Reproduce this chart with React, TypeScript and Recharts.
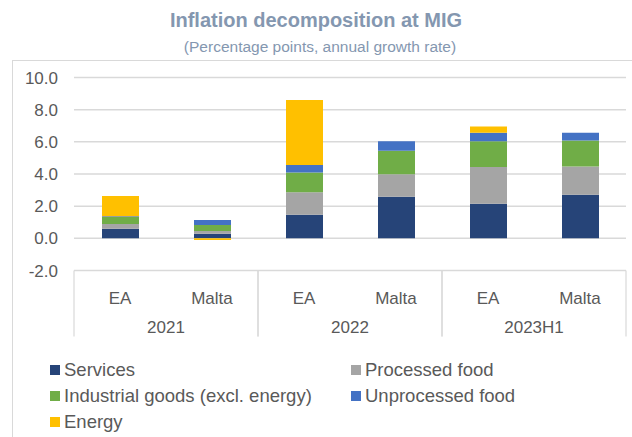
import React from "react";
import { BarChart, Bar, XAxis, YAxis, CartesianGrid } from "recharts";

const categories = ["EA", "Malta", "EA", "Malta", "EA", "Malta"];
const periods = ["2021", "2021", "2022", "2022", "2023H1", "2023H1"];
const services = [0.6, 0.29, 1.47, 2.59, 2.15, 2.71];
const processedFood = [0.29, 0.17, 1.39, 1.39, 2.28, 1.76];
const industrialGoods = [0.43, 0.37, 1.24, 1.47, 1.61, 1.61];
const unprocessedFood = [0.05, 0.31, 0.46, 0.58, 0.52, 0.48];
const energy = [1.26, -0.1, 4.04, 0.0, 0.39, 0.0];
const yTicks = [-2, 0, 2, 4, 6, 8, 10];

const seriesList = [
	{ key: "services", name: "Services", color: "#264478" },
	{ key: "processedFood", name: "Processed food", color: "#A5A5A5" },
	{ key: "industrialGoods", name: "Industrial goods (excl. energy)", color: "#70AD47" },
	{ key: "unprocessedFood", name: "Unprocessed food", color: "#4472C4" },
	{ key: "energy", name: "Energy", color: "#FFC000" },
];

const data = categories.map((c, i) => ({
	name: c,
	period: periods[i],
	services: services[i],
	processedFood: processedFood[i],
	industrialGoods: industrialGoods[i],
	unprocessedFood: unprocessedFood[i],
	energy: energy[i],
}));

const W = 632;
const H = 437;
const PLOT_LEFT = 74;
const PLOT_RIGHT = 626;
const CAT_W = (PLOT_RIGHT - PLOT_LEFT) / data.length;
const AXIS_H = 67;
const TEXT = "#595959";
const FONT = "'Liberation Sans', Arial, sans-serif";

// two-row category axis: country on top, period underneath, boxed per group
function CategoryTick(props: any) {
	const { x, y, payload } = props;
	const index = payload.index ?? props.index;
	const half = CAT_W / 2;
	const first = index % 2 === 0;
	return (
		<g>
			<text x={x} y={y + 33} textAnchor="middle" fill={TEXT} fontSize={17} fontFamily={FONT}>
				{payload.value}
			</text>
			{first && (
				<text x={x + half} y={y + 62} textAnchor="middle" fill={TEXT} fontSize={17} fontFamily={FONT}>
					{periods[index]}
				</text>
			)}
			{first && <line x1={x - half} x2={x - half} y1={y} y2={y + AXIS_H - 1} stroke="#d9d9d9" strokeWidth={1.2} />}
			{!first && <line x1={x + half} x2={x + half} y1={y} y2={y + AXIS_H - 1} stroke="#d9d9d9" strokeWidth={1.2} />}
		</g>
	);
}

export default function App() {
	return (
		<div style={{ position: "absolute", left: 0, top: 0, width: W, height: H, fontFamily: FONT, background: "#fff" }}>
			<div
				style={{
					position: "absolute",
					left: 12,
					top: 60,
					width: W - 12,
					height: H - 60,
					borderTop: "1.2px solid #d9d9d9",
					borderLeft: "1.2px solid #d9d9d9",
				}}
			/>
			<div style={{ position: "absolute", top: 9, left: 0, width: W, textAlign: "center", color: "#8497B0", fontSize: 20, fontWeight: "bold" }}>
				Inflation decomposition at MIG
			</div>
			<div style={{ position: "absolute", top: 38, left: 4, width: W, textAlign: "center", color: "#8497B0", fontSize: 15.5 }}>
				(Percentage points, annual growth rate)
			</div>
			<div style={{ position: "absolute", left: 0, top: 0 }}>
				<BarChart
					width={W}
					height={H}
					data={data}
					stackOffset="sign"
					margin={{ top: 77.5, right: W - PLOT_RIGHT, left: 12, bottom: H - 270.5 - AXIS_H }}
				>
					<CartesianGrid vertical={false} stroke="#d9d9d9" strokeWidth={1.5} />
					<XAxis
						dataKey="name"
						height={AXIS_H}
						interval={0}
						tickLine={false}
						tickSize={0}
						tickMargin={0}
						axisLine={{ stroke: "#d9d9d9", strokeWidth: 1.2 }}
						tick={<CategoryTick />}
					/>
					<YAxis
						width={62}
						domain={[-2, 10]}
						ticks={yTicks}
						tickFormatter={(v: number) => v.toFixed(1)}
						axisLine={false}
						tickLine={false}
						tickSize={6}
						tickMargin={10}
						tick={{ fill: TEXT, fontSize: 17, fontFamily: FONT }}
					/>
					{seriesList.map((s) => (
						<Bar key={s.key} dataKey={s.key} name={s.name} stackId="a" fill={s.color} barSize={37} isAnimationActive={false} />
					))}
				</BarChart>
			</div>
			{seriesList.map((s, i) => {
				const col = i % 2;
				const row = Math.floor(i / 2);
				const left = col === 0 ? 50 : 351;
				const top = 370 + row * 26 - 11;
				return (
					<div key={s.key} style={{ position: "absolute", left, top, height: 22, display: "flex", alignItems: "center", color: TEXT, fontSize: 18.5, whiteSpace: "nowrap" }}>
						<span style={{ display: "inline-block", width: 10, height: 10, background: s.color, marginRight: 4 }} />
						{s.name}
					</div>
				);
			})}
		</div>
	);
}
